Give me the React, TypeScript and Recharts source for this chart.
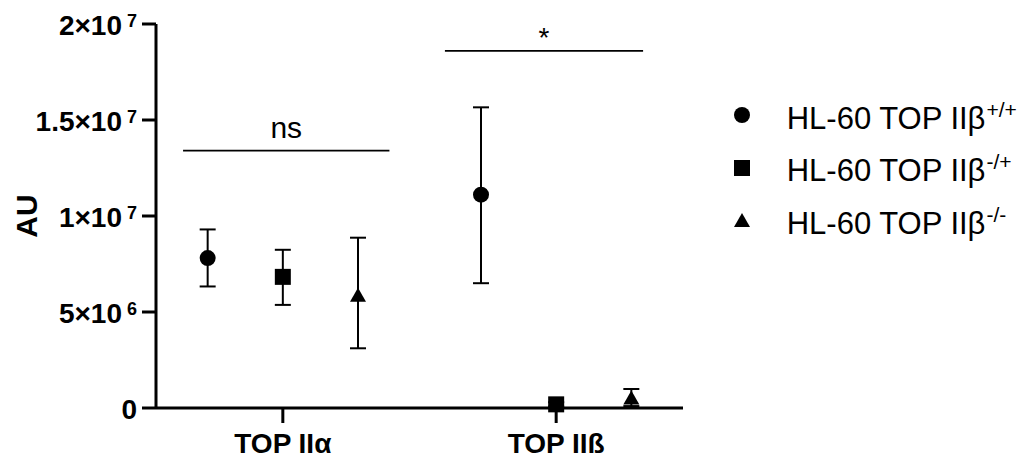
import React from 'react';
import { ScatterChart, Scatter, XAxis, YAxis, ErrorBar, ReferenceLine } from 'recharts';

// categories and where they sit on the numeric x axis
const categories = ['TOP IIα', 'TOP IIß'];
const categoryPos = [1, 2];

// legend names
const seriesNames = ['HL-60 TOP IIβ', 'HL-60 TOP IIβ', 'HL-60 TOP IIβ'];
const seriesSup = ['+/+', '-/+', '-/-'];

// mean and error bar ends (low / high), one value per category
const wtMean = [7.81e6, 11.11e6];
const wtLow = [6.33e6, 6.5e6];
const wtHigh = [9.3e6, 15.66e6];

const hetMean = [6.83e6, 0.19e6];
const hetLow = [5.37e6, 0.08e6];
const hetHigh = [8.24e6, 0.3e6];

const koMean = [5.9e6, 0.55e6];
const koLow = [3.11e6, 0.1e6];
const koHigh = [8.87e6, 0.99e6];

// y ticks
const yTicks = [0, 5e6, 1e7, 1.5e7, 2e7];
const yTickBase = ['0', '5×10', '1×10', '1.5×10', '2×10'];
const yTickExp = ['', '6', '7', '7', '7'];

// significance brackets
const sigLabels = ['ns', '*'];
const sigLevels = [13.4e6, 18.6e6];
const sigFrom = [0.635, 1.593];
const sigTo = [1.39, 2.318];

const FONT = '"Liberation Sans", Arial, sans-serif';
const offsets = [-0.275, 0, 0.275];

const build = (mean: number[], low: number[], high: number[], k: number) =>
  categories.map((c, i) => ({
    name: c,
    x: categoryPos[i] + offsets[k],
    y: mean[i],
    err: [mean[i] - low[i], high[i] - mean[i]],
  }));

const wtData = build(wtMean, wtLow, wtHigh, 0);
const hetData = build(hetMean, hetLow, hetHigh, 1);
const koData = build(koMean, koLow, koHigh, 2);

type Kind = 'circle' | 'square' | 'triangle';

const Marker = ({ cx, cy, kind }: { cx: number; cy: number; kind: Kind }) => {
  if (kind === 'circle') return <circle cx={cx} cy={cy} r={8} fill="#000" />;
  if (kind === 'square') return <rect x={cx - 8} y={cy - 8} width={16} height={16} fill="#000" />;
  return <polygon points={`${cx},${cy - 7} ${cx + 8},${cy + 7} ${cx - 8},${cy + 7}`} fill="#000" />;
};

const YTick = (props: any) => {
  const { x, y, payload } = props;
  const i = yTicks.indexOf(payload.value);
  return (
    <text x={x} y={y + 11} textAnchor="end" fontFamily={FONT} fontWeight="bold" fontSize={28} fill="#000">
      {yTickBase[i]}
      {yTickExp[i] && (
        <tspan dx={5} dy={-8} fontSize={18}>
          {yTickExp[i]}
        </tspan>
      )}
    </text>
  );
};

const XTick = (props: any) => {
  const { x, y, payload } = props;
  const i = categoryPos.indexOf(payload.value);
  return (
    <text x={x} y={y + 28} textAnchor="middle" fontFamily={FONT} fontWeight="bold" fontSize={28} fill="#000">
      {categories[i]}
    </text>
  );
};

const AuLabel = (props: any) => {
  const { viewBox } = props;
  const cy = viewBox.y + viewBox.height / 2;
  return (
    <text x={37} y={cy} transform={`rotate(-90, 37, ${cy})`} textAnchor="middle" fontFamily={FONT} fontWeight="bold" fontSize={30} fill="#000">
      AU
    </text>
  );
};

const kinds: Kind[] = ['circle', 'square', 'triangle'];

const LegendBox = () => (
  <>
    {seriesNames.map((n, i) => (
      <div
        key={i}
        style={{
          position: 'absolute',
          left: 733.7,
          top: 115 + i * 52.5 - 26,
          height: 52,
          display: 'flex',
          alignItems: 'center',
          whiteSpace: 'nowrap',
          fontFamily: FONT,
        }}
      >
        <svg width={16} height={16}>
          <Marker cx={8} cy={8} kind={kinds[i]} />
        </svg>
        <span style={{ marginLeft: 37, fontSize: 31, lineHeight: 1, position: 'relative', top: 3, color: '#000' }}>
          {n}
          <span style={{ fontSize: 21, position: 'relative', top: -12, marginLeft: 1 }}>{seriesSup[i]}</span>
        </span>
      </div>
    ))}
  </>
);

export default function App() {
  const axisStyle = { stroke: '#000', strokeWidth: 3 };
  return (
    <div style={{ position: 'relative', width: 1029, height: 459 }}>
      <style>{'body{margin:0;overflow:hidden}'}</style>
      <ScatterChart width={1029} height={459} margin={{ top: 24, right: 346, left: 0, bottom: 0 }}>
        <XAxis
          type="number"
          dataKey="x"
          domain={[0.536, 2.464]}
          ticks={categoryPos}
          interval={0}
          allowDataOverflow
          height={51}
          tickSize={15}
          tickMargin={2}
          tick={<XTick />}
          tickLine={axisStyle}
          axisLine={axisStyle}
        />
        <YAxis
          type="number"
          dataKey="y"
          domain={[0, 2e7]}
          ticks={yTicks}
          interval={0}
          width={156}
          tickSize={14}
          tickMargin={5}
          tick={<YTick />}
          tickLine={axisStyle}
          axisLine={axisStyle}
          label={<AuLabel />}
        />
        {sigLabels.map((s, i) => (
          <ReferenceLine
            key={s}
            segment={[
              { x: sigFrom[i], y: sigLevels[i] },
              { x: sigTo[i], y: sigLevels[i] },
            ]}
            stroke="#000"
            strokeWidth={1.7}
            ifOverflow="visible"
            label={{
              value: s,
              position: 'top',
              offset: i === 0 ? 13 : 4,
              fontSize: i === 0 ? 30 : 28,
              fill: '#000',
              fontFamily: FONT,
            }}
          />
        ))}
        <Scatter data={wtData} isAnimationActive={false} shape={(p: any) => <Marker cx={p.cx} cy={p.cy} kind="circle" />}>
          <ErrorBar dataKey="err" direction="y" width={8} stroke="#000" strokeWidth={2} />
        </Scatter>
        <Scatter data={hetData} isAnimationActive={false} shape={(p: any) => <Marker cx={p.cx} cy={p.cy} kind="square" />}>
          <ErrorBar dataKey="err" direction="y" width={8} stroke="#000" strokeWidth={2} />
        </Scatter>
        <Scatter data={koData} isAnimationActive={false} shape={(p: any) => <Marker cx={p.cx} cy={p.cy} kind="triangle" />}>
          <ErrorBar dataKey="err" direction="y" width={8} stroke="#000" strokeWidth={2} />
        </Scatter>
      </ScatterChart>
      <LegendBox />
    </div>
  );
}
